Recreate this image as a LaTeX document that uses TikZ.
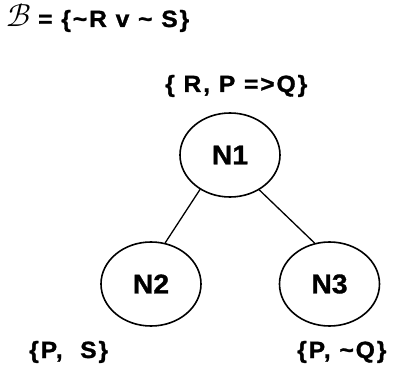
\documentclass[tikz,border=0pt]{standalone}
\usetikzlibrary{shapes.geometric}
\usepackage{fontspec}
\usepackage{unicode-math}
\setmainfont{Liberation Sans}
\newfontfamily\labfont[FakeStretch=1.05,LetterSpace=8,FakeBold=1.2]{Liberation Sans}
\newfontfamily\nfont[FakeStretch=1.05,FakeBold=1.2]{Liberation Sans}
\begin{document}
\begin{tikzpicture}[x=1pt,y=-1pt,
  treenode/.style={draw,ellipse,line width=1.6pt,minimum width=100pt,minimum height=84pt,inner sep=0pt,
    font=\nfont\bfseries\fontsize{27}{27}\selectfont},
  setlabel/.style={anchor=base west,inner sep=0pt,font=\labfont\bfseries\fontsize{23.5}{24}\selectfont},
  edge/.style={line width=1.3pt}]
\useasboundingbox (0,0) rectangle (396,374);
\node[anchor=base west,inner sep=0pt,font=\fontsize{32}{32}\selectfont] (B) at (6,27) {$\mathscr{B}$};
\node[setlabel] (title) at (38,27) {= \{\textasciitilde R v \textasciitilde{} S\}};
\node[treenode] (N1) at (230,155) {N1};
\node[treenode] (N2) at (151,284) {N2};
\node[treenode] (N3) at (329.5,284) {N3};
\node[setlabel] (l1) at (165,92) {\{ R, P =>Q\}};
\node[setlabel] (l2) at (29,358) {\{P,\ \ S\}};
\node[setlabel] (l3) at (297,358) {\{P, \textasciitilde Q\}};
\draw[edge] (N1.229) -- (N2.71);
\draw[edge] (N1.-50) -- (N3.110);
\end{tikzpicture}
\end{document}
